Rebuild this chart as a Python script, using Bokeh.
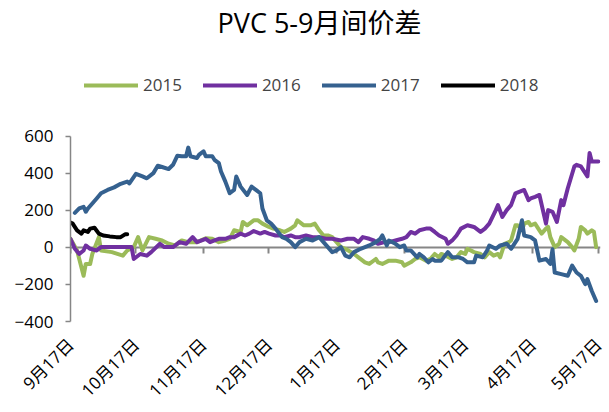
import math
from bokeh.plotting import figure
from bokeh.models import (FixedTicker, LinearAxis, Legend, LegendItem, Label, Range1d)
from bokeh.embed import file_html
from bokeh.resources import INLINE

# ---- data (x = days after 9月17日) ----
month_days = [0, 30, 61, 91, 122, 153, 181, 212, 242]
month_labels = ["9月17日", "10月17日", "11月17日", "12月17日", "1月17日",
                "2月17日", "3月17日", "4月17日", "5月17日"]
y_ticks = [-400, -200, 0, 200, 400, 600]

x2015 = [0, 3, 6, 7, 9, 10, 13, 14, 19, 24,
         26, 29, 31, 33, 36, 39, 42, 45, 48, 51,
         54, 58, 62, 65, 68, 71, 73, 75, 78, 79,
         81, 84, 86, 88, 91, 93, 96, 98, 101, 103,
         104, 107, 110, 112, 114, 116, 118, 120, 122, 124,
         126, 130, 132, 135, 137, 140, 141, 143, 146, 149,
         152, 153, 156, 158, 160, 163, 165, 167, 169, 170,
         172, 175, 177, 179, 181, 182, 185, 188, 190, 192,
         194, 196, 197, 199, 201, 202, 204, 205, 207, 208,
         210, 211, 213, 215, 216, 218, 219, 220, 222, 224,
         225, 228, 230, 231, 233, 234, 236, 237, 239, 240,
         241]
y2015 = [47, -16, -153, -89, -89, -35, 56, -16, -25, -44,
         -16, 2, 56, -16, 56, 47, 38, 20, 11, 38,
         29, 29, 50, 47, 29, 38, 47, 93, 84, 138,
         120, 147, 147, 129, 111, 102, 93, 84, 102, 120,
         147, 120, 120, 129, 93, 65, 65, 56, 29, 2,
         -7, -35, -53, -80, -89, -62, -80, -89, -71, -71,
         -80, -98, -80, -62, -53, -71, -62, -35, -53, -35,
         -44, -62, -53, -25, -35, -7, -25, -35, -53, -25,
         -44, -35, -53, 20, 29, 38, 120, 120, 93, 129,
         138, 120, 129, 93, 75, 102, 111, 56, 2, 20,
         56, 29, 2, -16, 47, 111, 93, 75, 93, 84,
         2]

x2016 = [0, 2, 4, 6, 7, 9, 12, 14, 19, 26,
         28, 29, 32, 35, 37, 41, 43, 47, 50, 53,
         56, 58, 62, 64, 66, 68, 71, 73, 75, 78,
         80, 82, 84, 87, 89, 91, 94, 96, 98, 101,
         103, 105, 108, 111, 114, 117, 120, 124, 127, 130,
         132, 134, 137, 139, 141, 144, 146, 149, 152, 154,
         156, 158, 160, 163, 165, 167, 169, 172, 173, 175,
         177, 179, 182, 185, 188, 190, 192, 195, 196, 198,
         200, 202, 204, 206, 208, 210, 211, 213, 215, 218,
         219, 221, 223, 225, 226, 228, 231, 232, 234, 237,
         238, 239, 241, 242]
y2016 = [45, -7, -35, -16, 11, -7, -16, 2, 2, 2,
         2, -62, -35, -44, -25, 20, 2, 2, 29, 20,
         56, 29, 47, 29, 38, 47, 47, 56, 56, 75,
         65, 75, 89, 75, 84, 75, 65, 65, 56, 65,
         56, 56, 65, 56, 56, 47, 47, 38, 47, 47,
         29, 56, 47, 38, 20, 29, 29, 38, 47, 56,
         84, 75, 93, 102, 102, 84, 65, 47, 20, 38,
         65, 102, 120, 111, 84, 102, 129, 202, 229, 165,
         202, 229, 293, 302, 311, 256, 265, 274, 284, 129,
         202, 193, 138, 256, 229, 320, 438, 447, 438, 384,
         511, 465, 465, 465]

x2017 = [2, 4, 6, 7, 8, 10, 12, 14, 17, 20,
         23, 26, 27, 30, 33, 35, 38, 40, 42, 45,
         47, 49, 51, 53, 54, 55, 58, 59, 61, 62,
         65, 66, 68, 69, 71, 73, 75, 76, 78, 81,
         83, 85, 87, 88, 90, 92, 94, 97, 99, 101,
         103, 105, 108, 111, 114, 116, 118, 120, 122, 124,
         126, 128, 130, 133, 137, 140, 142, 143, 145, 146,
         149, 151, 153, 154, 156, 159, 160, 162, 164, 166,
         167, 170, 173, 175, 178, 180, 182, 185, 186, 189,
         191, 192, 195, 197, 200, 202, 205, 207, 208, 211,
         213, 215, 218, 220, 221, 222, 225, 228, 230, 232,
         234, 236, 237, 239, 241]
y2017 = [187, 211, 220, 193, 211, 238, 265, 293, 311, 325,
         344, 356, 347, 398, 384, 374, 402, 442, 435, 424,
         447, 496, 493, 493, 540, 493, 484, 502, 520, 493,
         493, 474, 456, 411, 356, 293, 311, 384, 329, 284,
         329, 311, 293, 211, 147, 129, 102, 56, 47, 29,
         2, 29, 47, 38, 56, 29, 2, -25, -16, 2,
         -44, -53, -25, -7, 11, 29, 47, 65, 11, 38,
         20, 2, 11, -16, -16, -53, -35, -53, -80, -62,
         -71, -71, -25, -53, -53, -62, -80, -80, -44, -53,
         -16, 11, -7, 11, 20, -7, 47, 147, 65, 56,
         38, -71, -62, -89, -10, -135, -144, -153, -98, -135,
         -153, -198, -171, -235, -289]

x2018 = [0, 1, 3, 5, 6, 8, 9, 11, 13, 15, 18, 21, 23, 25, 26]
y2018 = [135, 129, 93, 75, 93, 84, 102, 107, 75, 65, 60, 56, 56, 71, 71]

series = [("2015", x2015, y2015, "#9BBB59"),
          ("2016", x2016, y2016, "#7030A0"),
          ("2017", x2017, y2017, "#35618F"),
          ("2018", x2018, y2018, "#000000")]

FONT = "Open Sans, Noto Sans CJK SC"
AXIS_GRAY = "#868686"

# frame fills the top of the canvas; y axis line limited with bounds
p = figure(width=609, height=412, x_range=Range1d(0, 243), y_range=Range1d(-400, 1335),
           output_backend="svg", toolbar_location=None,
           min_border_left=70, min_border_right=9, min_border_top=0, min_border_bottom=91)
p.grid.visible = False
p.outline_line_color = None
p.background_fill_color = "white"

xa = p.xaxis[0]   # bottom axis: labels only
xa.ticker = FixedTicker(ticks=month_days)
xa.major_label_overrides = {d: lab for d, lab in zip(month_days, month_labels)}
xa.axis_line_color = None
xa.major_tick_line_color = None
xa.minor_tick_line_color = None
xa.major_label_orientation = math.pi / 4
xa.major_label_text_font = FONT
xa.major_label_text_font_size = "17px"
xa.major_label_text_color = "black"
xa.major_label_standoff = 14

ya = p.yaxis[0]
ya.ticker = FixedTicker(ticks=y_ticks)
ya.bounds = (-400, 600)
ya.axis_line_color = AXIS_GRAY
ya.axis_line_width = 1.5
ya.major_tick_line_color = AXIS_GRAY
ya.major_tick_line_width = 1.5
ya.major_tick_out = 5
ya.major_tick_in = 0
ya.minor_tick_line_color = None
ya.major_label_text_font = FONT
ya.major_label_text_font_size = "17px"
ya.major_label_text_color = "black"
ya.major_label_standoff = 12

# zero line axis with downward ticks (no labels)
zero_axis = LinearAxis(fixed_location=0, ticker=FixedTicker(ticks=month_days),
                       axis_line_color=AXIS_GRAY, axis_line_width=2,
                       major_tick_line_color=AXIS_GRAY, major_tick_line_width=2,
                       major_tick_in=0, major_tick_out=6, major_label_standoff=0,
                       minor_tick_line_color=None,
                       major_label_text_color=None, major_label_text_font_size="1px")
zero_axis.level = "underlay"
p.add_layout(zero_axis, "below")

renderers = []
for name, xs, ys, col in series:
    r = p.line(xs, ys, line_color=col, line_width=4, line_join="round", line_cap="round")
    renderers.append((name, r))

legend = Legend(items=[LegendItem(label=n, renderers=[r]) for n, r in renderers],
                orientation="horizontal", location=(14, 225),
                glyph_width=54, glyph_height=20, label_standoff=5, spacing=21,
                padding=0, margin=0, border_line_color=None, background_fill_alpha=0,
                label_text_font=FONT, label_text_font_size="17px")
p.add_layout(legend)

title = Label(x=249, y=299, x_units="screen", y_units="screen",
              text="PVC 5-9月间价差", text_font=FONT, text_font_size="27px",
              text_align="center", text_baseline="middle", text_color="black")
p.add_layout(title)

open("out.html", "w").write(file_html(p, INLINE))
